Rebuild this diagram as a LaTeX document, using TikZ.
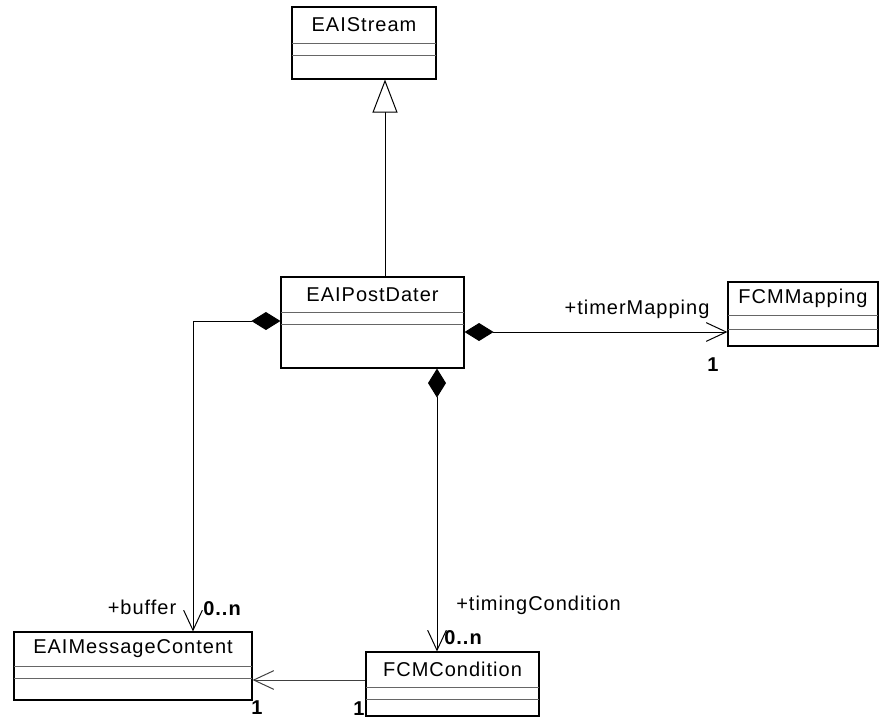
\documentclass[tikz,border=0pt]{standalone}
\usepackage{fontspec}
\setmainfont{Liberation Sans}[LetterSpace=5]
\usetikzlibrary{arrows.meta}
\tikzset{
  clsbox/.style={draw=black, line width=0.85pt, fill=white, inner sep=0pt, rectangle},
  divider/.style={draw=black!60, line width=0.75pt},
  clsname/.style={font=\fontsize{15}{17}\selectfont, inner sep=0pt},
  lbl/.style={font=\fontsize{15}{17}\selectfont, inner sep=0pt},
  mult/.style={font=\fontsize{15}{17}\selectfont\bfseries, inner sep=0pt},
  conn/.style={draw=black, line width=0.75pt},
  comp/.style={conn, {Diamond[length=21.75pt,width=13.5pt,fill=black]}-{Straight Barb[length=15pt,width=14pt]}},
  assoc/.style={conn, -{Straight Barb[length=15pt,width=14pt]}},
  gen/.style={conn, -{Triangle[open,length=24.75pt,width=18.75pt,fill=white]}}
}
\newcommand{\umlclass}[8]{%
  \node[clsbox, minimum width={(#4-#2)*0.75pt}, minimum height={(#5-#3)*0.75pt}] (#1) at ({(#2+#4)/2},{(#3+#5)/2}) {};
  \draw[divider] (#2,#6) -- (#4,#6);
  \draw[divider] (#2,#7) -- (#4,#7);
  \node[clsname] (#1-t) at ({(#2+#4)/2},{(#3+#6)/2}) {#8};
}
\begin{document}
\begin{tikzpicture}[x=0.75pt,y=-0.75pt]
\useasboundingbox (0,0) rectangle (879,719);
% classes
\umlclass{st}{292}{7}{436}{79}{43}{55}{EAIStream}
\umlclass{pd}{281}{277}{464}{368}{312}{324}{EAIPostDater}
\umlclass{fm}{728}{282}{878}{346}{315}{329}{FCMMapping}
\umlclass{mc}{14}{632}{252}{700}{666}{678}{EAIMessageContent}
\umlclass{fc}{366}{652}{539}{716}{687}{699}{FCMCondition}
% generalization
\draw[gen] ([xshift=9.375pt]pd.north) -- ([xshift=15.75pt]st.south);
% compositions
\draw[comp] ([yshift=1.125pt]pd.west) -| ([xshift=45pt]mc.north);
\draw[comp] ([yshift=-7.125pt]pd.east) -- ([yshift=-13.5pt]fm.west);
\draw[comp] ([xshift=48.375pt]pd.south) -- ([xshift=-11.625pt]fc.north);
% association
\draw[assoc, draw=black!75] ([yshift=3pt]fc.west) -- ([yshift=-10.5pt]mc.east);
% labels
\node[lbl] (l-tm) at (637,309) {+timerMapping};
\node[mult] (m-tm) at (713,365) {1};
\node[lbl] (l-buf) at (142,607) {+buffer};
\node[mult] (m-buf) at (222,609) {0..n};
\node[lbl, anchor=west] (l-tc) at (456,605) {+timingCondition};
\node[mult] (m-tc) at (463,638) {0..n};
\node[mult] (m-mc) at (257,708) {1};
\node[mult] (m-fc) at (359,709) {1};
\end{tikzpicture}
\end{document}
